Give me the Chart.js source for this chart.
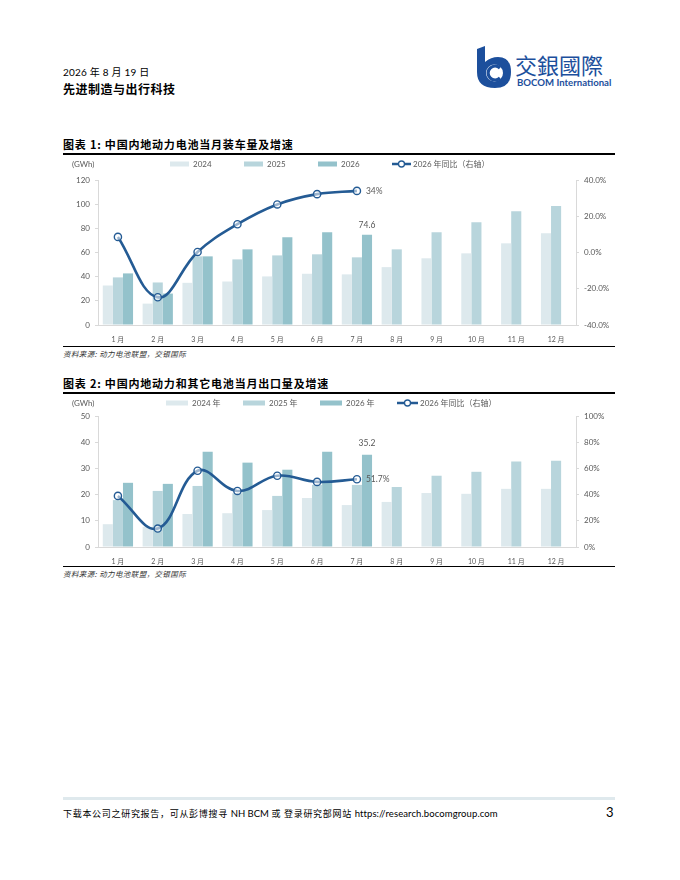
<!DOCTYPE html>
<html>
<head>
<meta charset="utf-8">
<script src="https://cdn.jsdelivr.net/npm/chart.js@4.4.0/dist/chart.umd.min.js"></script>
<style>
  html,body{margin:0;padding:0;background:#fff;}
  body{width:680px;height:880px;position:relative;overflow:hidden;font-family:Lato,"Noto Sans CJK SC",sans-serif;color:#000;}
  .abs{position:absolute;}
  .rule{position:absolute;left:63px;width:552px;background:#000;}
  .title{position:absolute;left:63px;font-family:"Noto Sans CJK SC";font-weight:bold;font-size:11px;letter-spacing:0.8px;white-space:nowrap;}
  .src{position:absolute;left:63px;font-family:"Noto Sans CJK SC";font-style:italic;font-size:7.5px;letter-spacing:0.4px;color:#333;white-space:nowrap;}
</style>
</head>
<body>
<div class="abs" style="left:63px;top:64px;font-size:10px;font-family:Lato,'Noto Sans CJK SC';letter-spacing:0.2px;">2026 年 8 月 19 日</div>
<div class="abs" style="left:63px;top:80px;font-size:12px;font-weight:bold;font-family:'Noto Sans CJK SC';letter-spacing:0.5px;">先进制造与出行科技</div>

<svg class="abs" style="left:473px;top:46px;" width="150" height="46" viewBox="0 0 150 46">
  <path d="M4 3 L12 0 L12 16 Q 18 11 25 11 Q 38 11 38 26 Q 38 42 22 42 Q 4 42 4 26 Z" fill="#1c4f9c"/>
  <circle cx="21.5" cy="27" r="8.5" fill="#fff"/>
  <path d="M27 22 A 7 7 0 1 0 27 32" stroke="#1c4f9c" stroke-width="3.2" fill="none"/>
  <text x="42" y="28" font-family="Noto Sans CJK TC" font-size="22" fill="#1c4f9c">交銀國際</text>
  <text x="44" y="40" font-family="Lato" font-weight="bold" font-size="9.6" fill="#1c4f9c">BOCOM International</text>
</svg>

<div class="title" style="top:136px;">图表 1: 中国内地动力电池当月装车量及增速</div>
<div class="rule" style="top:153px;height:1.5px;"></div>
<div class="abs" style="left:63px;top:156px;width:552px;height:190px;"><canvas id="c1"></canvas></div>
<div class="rule" style="top:346px;height:1px;"></div>
<div class="src" style="top:348px;">资料来源: 动力电池联盟，交银国际</div>

<div class="title" style="top:375px;">图表 2: 中国内地动力和其它电池当月出口量及增速</div>
<div class="rule" style="top:392px;height:1.5px;"></div>
<div class="abs" style="left:63px;top:394px;width:552px;height:172px;"><canvas id="c2"></canvas></div>
<div class="rule" style="top:566px;height:1px;"></div>
<div class="src" style="top:568px;">资料来源: 动力电池联盟，交银国际</div>

<div class="abs" style="left:63px;top:797px;width:552px;height:3px;background:#dfe9ed;"></div>
<div class="abs" style="left:63px;top:807px;font-size:9px;font-family:'Noto Sans CJK SC';white-space:nowrap;letter-spacing:0.7px;">下载本公司之研究报告，可从彭博搜寻 <span style="font-family:Lato;font-size:9.5px;letter-spacing:0;">NH BCM</span> 或 登录研究部网站 <span style="font-family:Lato;font-size:9.5px;letter-spacing:0.1px;">https://research.bocomgroup.com</span></div>
<div class="abs" style="left:606px;top:804px;font-size:13px;font-family:Lato;">3</div>

<script>
// ---------- DATA ----------
const months = ['1 月','2 月','3 月','4 月','5 月','6 月','7 月','8 月','9 月','10 月','11 月','12 月'];

// Chart 1: installed volume (GWh) and 2026 YoY (%)
const inst2024 = [32.7, 17.7, 34.9, 36.0, 40.2, 42.4, 41.9, 47.9, 55.2, 59.3, 67.6, 75.9];
const inst2025 = [39.4, 35.2, 56.8, 54.3, 57.6, 58.5, 56.0, 62.6, 76.8, 85.1, 94.2, 98.4];
const inst2026 = [42.7, 26.0, 56.8, 62.6, 72.6, 76.8, 74.6, null, null, null, null, null];
const instYoy  = [8.6, -24.7, 0.3, 15.6, 26.5, 32.2, 34.0, null, null, null, null, null];
const inst1Labels = ['2024', '2025', '2026', '2026 年同比（右轴）'];

// Chart 2: export volume (GWh) and 2026 YoY (%)
const exp2024 = [8.7, 7.7, 12.6, 12.9, 14.1, 18.7, 16.0, 17.2, 20.6, 20.3, 22.2, 22.2];
const exp2025 = [17.9, 21.4, 23.3, 20.5, 19.5, 23.7, 23.7, 22.9, 27.2, 28.7, 32.6, 32.9];
const exp2026 = [24.5, 24.1, 36.4, 32.2, 29.5, 36.4, 35.2, null, null, null, null, null];
const expYoy  = [39.0, 14.1, 58.2, 42.8, 54.4, 49.7, 51.7, null, null, null, null, null];
const exp2Labels = ['2024 年', '2025 年', '2026 年', '2026 年同比（右轴）'];

// ---------- STYLE ----------
const C24 = '#dde9ed', C25 = '#b8d5dc', C26 = '#94c2cb', CL = '#245b94';
const TXT = '#595959', AX = '#d9d9d9';
const FONT = 'Lato, "Noto Sans CJK SC", sans-serif';

const legendPlugin = {
  id: 'customLegend',
  afterDraw(chart, args, opts) {
    const ctx = chart.ctx;
    ctx.save();
    ctx.font = '8px ' + FONT;
    ctx.fillStyle = TXT;
    ctx.textBaseline = 'middle';
    ctx.fillText('(GWh)', opts.unitX, opts.y);
    const order = opts.order;
    order.forEach((di, i) => {
      const ds = chart.data.datasets[di];
      const x = opts.xs[i];
      const y = opts.y;
      if (ds.type === 'line') {
        ctx.strokeStyle = ds.borderColor;
        ctx.lineWidth = 2.5;
        ctx.beginPath(); ctx.moveTo(x, y); ctx.lineTo(x + opts.lineW, y); ctx.stroke();
        ctx.lineWidth = 1.3;
        ctx.fillStyle = '#ffffff';
        ctx.beginPath(); ctx.arc(x + opts.lineW / 2, y, 3, 0, Math.PI * 2); ctx.fill(); ctx.stroke();
        ctx.fillStyle = TXT;
        ctx.fillText(ds.label, x + opts.lineW + 2, y);
      } else {
        ctx.fillStyle = ds.backgroundColor;
        ctx.fillRect(x, y - 2.5, opts.boxW, 5);
        ctx.fillStyle = TXT;
        ctx.fillText(ds.label, x + opts.boxW + 4, y);
      }
    });
    ctx.restore();
  }
};

const valueLabelPlugin = {
  id: 'valueLabels',
  afterDatasetsDraw(chart, args, opts) {
    const ctx = chart.ctx;
    ctx.save();
    ctx.font = '8.5px ' + FONT;
    ctx.fillStyle = TXT;
    (opts.items || []).forEach(it => {
      const meta = chart.getDatasetMeta(it.ds);
      const el = meta.data[it.idx];
      const v = chart.data.datasets[it.ds].data[it.idx];
      const text = it.fmt(v);
      if (it.where === 'top') {
        ctx.textAlign = 'center'; ctx.textBaseline = 'bottom';
        ctx.fillText(text, el.x, el.y - it.gap);
      } else {
        ctx.textAlign = 'left'; ctx.textBaseline = 'middle';
        ctx.fillText(text, el.x + it.gap, el.y);
      }
    });
    ctx.restore();
  }
};

function makeChart(id, cfg) {
  const barDs = (label, data, color) => ({
    type: 'bar', label, data, backgroundColor: color, order: 2,
    yAxisID: 'y', categoryPercentage: 0.76, barPercentage: 1.0
  });
  return new Chart(document.getElementById(id), {
    data: {
      labels: months,
      datasets: [
        barDs(cfg.labels[0], cfg.a, C24),
        barDs(cfg.labels[1], cfg.b, C25),
        barDs(cfg.labels[2], cfg.c, C26),
        {
          type: 'line', label: cfg.labels[3], data: cfg.yoy, yAxisID: 'y1', order: 0,
          borderColor: CL, borderWidth: 2.6, tension: 0.4,
          pointRadius: 3.6, pointBorderWidth: 1.4, pointBorderColor: CL,
          pointBackgroundColor: 'rgba(255,255,255,0.55)'
        }
      ]
    },
    options: {
      responsive: true, maintainAspectRatio: false, animation: false,
      events: [],
      layout: { padding: { top: cfg.top, left: 0, right: 0, bottom: 0 } },
      plugins: {
        legend: { display: false }, tooltip: { enabled: false },
        customLegend: cfg.legend,
        valueLabels: { items: cfg.valueItems }
      },
      scales: {
        x: {
          grid: { display: false },
          border: { color: AX },
          ticks: { color: TXT, font: { size: 7, family: FONT }, padding: 3, maxRotation: 0 },
          afterFit: s => { s.height = cfg.xH; }
        },
        y: {
          position: 'left', min: cfg.yMin, max: cfg.yMax,
          ticks: { stepSize: cfg.yStep, color: TXT, font: { size: 8, family: FONT }, padding: 5 },
          grid: { drawOnChartArea: false, drawTicks: true, tickLength: 3, color: AX },
          border: { color: AX },
          afterFit: s => { s.width = cfg.yW; }
        },
        y1: {
          position: 'right', min: cfg.rMin, max: cfg.rMax,
          ticks: { stepSize: cfg.rStep, color: TXT, font: { size: 8, family: FONT }, padding: 5, callback: cfg.rFmt },
          grid: { drawOnChartArea: false, drawTicks: true, tickLength: 3, color: AX },
          border: { color: AX },
          afterFit: s => { s.width = cfg.rW; }
        }
      }
    },
    plugins: [legendPlugin, valueLabelPlugin]
  });
}

makeChart('c1', {
  labels: inst1Labels, a: inst2024, b: inst2025, c: inst2026, yoy: instYoy,
  top: 24, xH: 21, yW: 35, rW: 39,
  yMin: 0, yMax: 120, yStep: 20,
  rMin: -40, rMax: 40, rStep: 20, rFmt: v => v.toFixed(1) + '%',
  legend: { order: [0, 1, 2, 3], xs: [107, 181, 255, 329], y: 8, boxW: 19, lineW: 19, unitX: 9 },
  valueItems: [
    { ds: 2, idx: 6, where: 'top', gap: 5, fmt: v => v.toFixed(1) },
    { ds: 3, idx: 6, where: 'right', gap: 9, fmt: v => Math.round(v) + '%' }
  ]
});

makeChart('c2', {
  labels: exp2Labels, a: exp2024, b: exp2025, c: exp2026, yoy: expYoy,
  top: 22, xH: 19, yW: 35, rW: 39,
  yMin: 0, yMax: 50, yStep: 10,
  rMin: 0, rMax: 100, rStep: 20, rFmt: v => Math.round(v) + '%',
  legend: { order: [0, 1, 2, 3], xs: [103, 180, 257, 334], y: 9, boxW: 22, lineW: 21, unitX: 9 },
  valueItems: [
    { ds: 2, idx: 6, where: 'top', gap: 7, fmt: v => v.toFixed(1) },
    { ds: 3, idx: 6, where: 'right', gap: 9, fmt: v => v.toFixed(1) + '%' }
  ]
});
</script>
</body>
</html>
